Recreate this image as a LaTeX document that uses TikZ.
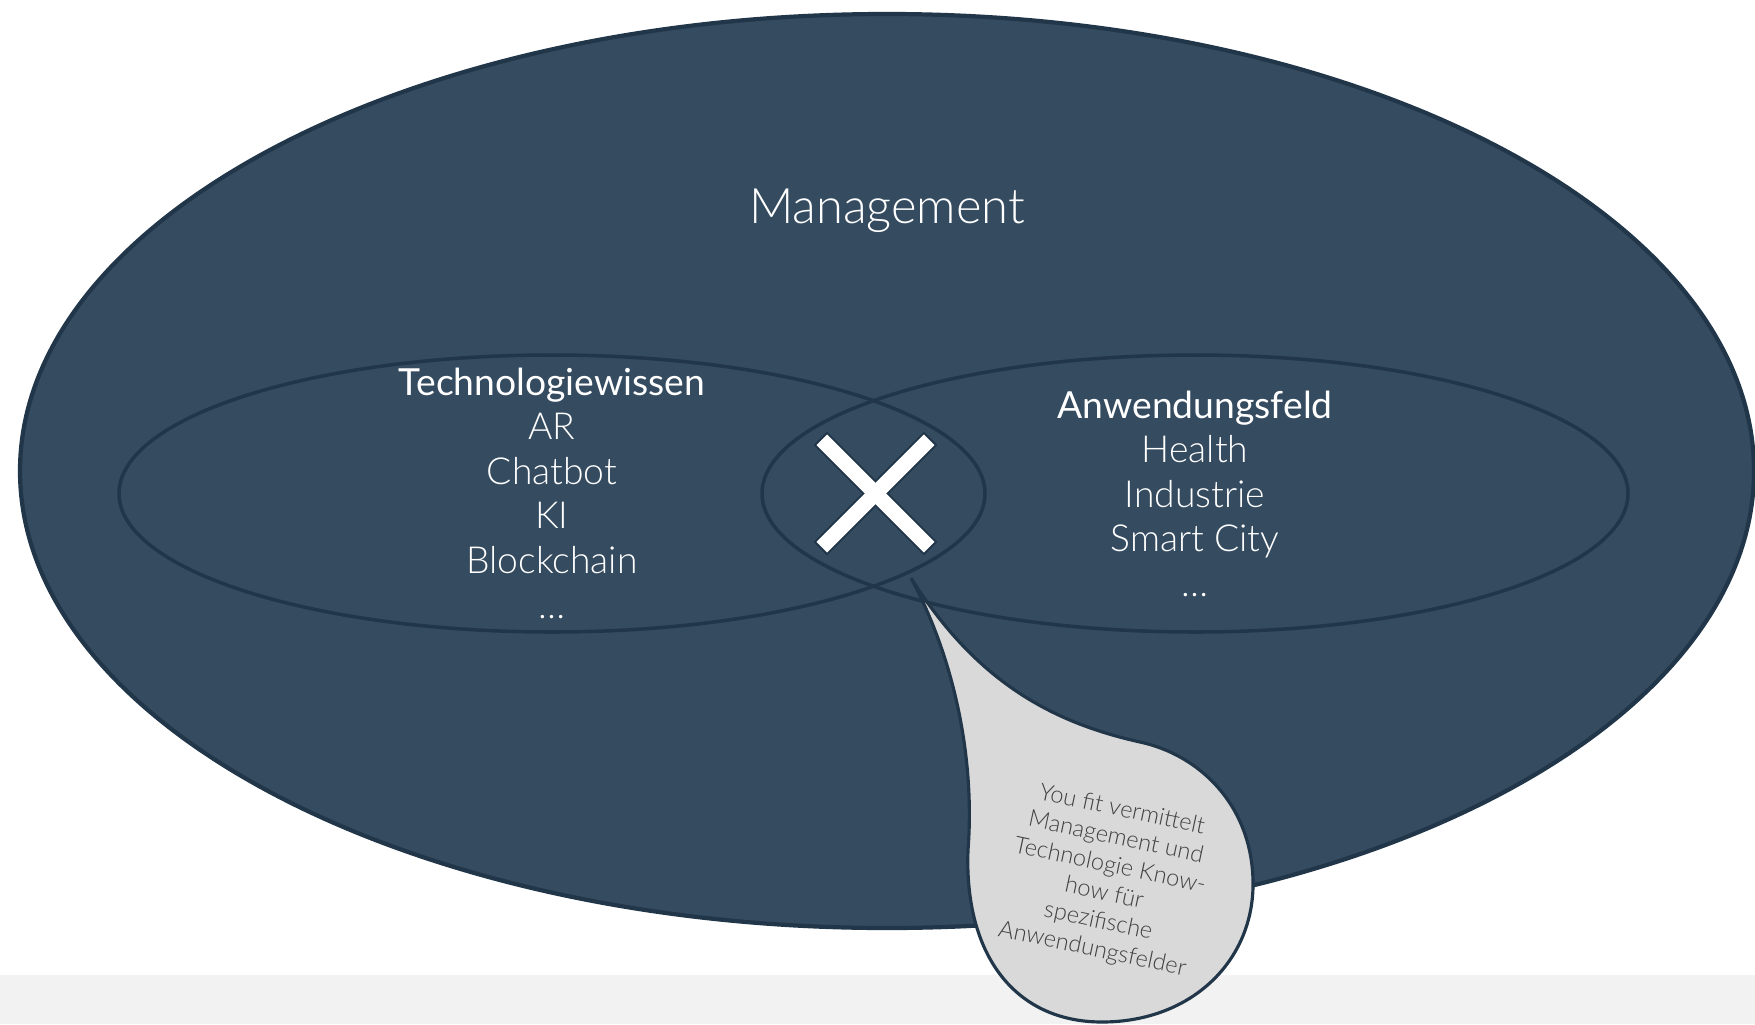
\documentclass[tikz,border=0pt]{standalone}
\usepackage{fontspec}
\setmainfont{Lato Light}
\newfontfamily\headfont{Lato}
\usetikzlibrary{positioning}
\definecolor{mgmtblue}{HTML}{354B60}
\definecolor{rimblue}{HTML}{22364A}
\definecolor{bandgray}{HTML}{F2F2F2}
\definecolor{bubblegray}{HTML}{D9D9D9}
\definecolor{notegray}{HTML}{404040}
\tikzset{outer/.style={fill=mgmtblue, draw=rimblue, line width=1.2pt},
         field/.style={draw=rimblue, line width=1pt},
         item/.style={text=white, anchor=base, inner sep=0pt, font=\fontsize{10.6}{12}\selectfont},
         head/.style={item, font=\fontsize{10.6}{12}\headfont},
         crossrim/.style={draw=rimblue, line width=5.4pt},
         crossbar/.style={draw=white, line width=4.3pt, shorten <=0.6pt, shorten >=0.6pt},
         bubble/.style={fill=bubblegray, draw=rimblue, line width=0.9pt}}

\begin{document}
\begin{tikzpicture}[x=0.01cm,y=-0.01cm]
    \useasboundingbox (0,0) rectangle (1755,1024);
    \fill[bandgray] (0,975) rectangle (1755,1024);
    \draw[outer] (887,471) ellipse [x radius=867, y radius=457];
    \node[item, font=\fontsize{13.9}{16}\selectfont] (mgmt) at (887,223) {Management};

    \draw[field] (552,493.5) ellipse [x radius=433, y radius=138.5];
    \draw[field] (1195,493.5) ellipse [x radius=433, y radius=138.5];

    \node[head] (tech) at (552,395) {Technologiewissen};
    \foreach \w [count=\n] in {AR,Chatbot,KI,Blockchain,\dots}
        \node[item] (tech\n) at (552,{395+44.6*\n}) {\w};

    \node[head] (feld) at (1195,418) {Anwendungsfeld};
    \foreach \w [count=\n] in {Health,Industrie,Smart City,\dots}
        \node[item] (feld\n) at (1195,{418+44.6*\n}) {\w};

    \coordinate (cross) at (875.5,493.5);
    \foreach \a in {45,135}
        \draw[crossrim] (cross) ++(\a:78) -- ++(\a+180:156);
    \foreach \a in {45,135}
        \draw[crossbar] (cross) ++(\a:78) -- ++(\a+180:156);

    \draw[bubble] (911,578) .. controls (955,660) and (975,760) .. (968,850)
        .. controls (964,955) and (1015,1022) .. (1102,1022)
        .. controls (1192,1022) and (1255,960) .. (1253,880)
        .. controls (1251,805) and (1200,755) .. (1140,742)
        .. controls (1050,722) and (975,680) .. (911,578) -- cycle;
    \node[text=notegray, align=center, rotate=-12, font=\fontsize{6.7}{8.1}\selectfont] (note) at (1107,880)
        {You fit vermittelt\\Management und\\Technologie Know-\\how für\\spezifische\\Anwendungsfelder};
\end{tikzpicture}
\end{document}
